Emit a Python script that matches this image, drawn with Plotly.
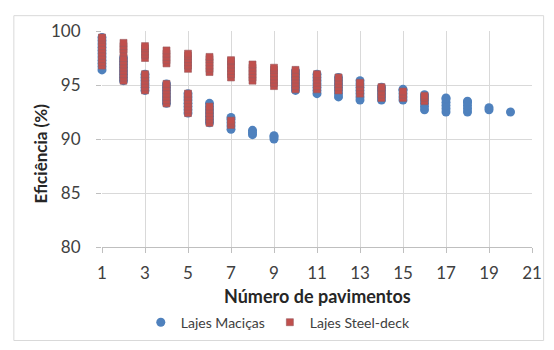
import plotly.graph_objects as go

# Número de pavimentos (one list of efficiency values per floor count)
floors_macicas = [1, 2, 3, 4, 5, 6, 7, 8, 9, 10, 11, 12, 13, 14, 15, 16, 17, 18, 19, 20]
efic_macicas = [
    [96.4, 96.7, 97.0, 97.3, 97.6, 97.9, 98.2, 98.5, 98.8, 99.1, 99.4],
    [95.4, 95.7, 96.0, 96.3, 96.6, 96.9, 97.2, 97.5],
    [94.5, 94.8, 95.1, 95.4, 95.7, 96.0],
    [93.3, 93.6, 93.9, 94.2, 94.5, 94.8, 95.1],
    [92.4, 92.7, 93.0, 93.3, 93.6, 93.9, 94.2],
    [91.5, 91.8, 92.1, 92.4, 92.7, 93.0, 93.3],
    [90.9, 91.2, 91.5, 91.8, 92.0],
    [90.4, 90.6, 90.8],
    [90.0, 90.2, 90.3],
    [94.5, 94.8, 95.1, 95.4, 95.7, 96.0, 96.3],
    [94.2, 94.5, 94.8, 95.1, 95.4, 95.7, 96.0],
    [93.9, 94.2, 94.5, 94.8, 95.1, 95.4, 95.7],
    [93.6, 93.9, 94.2, 94.5, 94.8, 95.1, 95.4],
    [93.6, 93.9, 94.2, 94.5, 94.8],
    [93.6, 93.9, 94.2, 94.5, 94.6],
    [92.7, 93.0, 93.3, 93.6, 93.9, 94.1],
    [92.5, 92.8, 93.1, 93.4, 93.7, 93.8],
    [92.5, 92.8, 93.1, 93.4, 93.5],
    [92.7, 92.9],
    [92.5],
]

floors_steel = [1, 2, 3, 4, 5, 6, 7, 8, 9, 10, 11, 12, 13, 14, 15, 16]
efic_steel = [
    [96.8, 97.1, 97.4, 97.7, 98.0, 98.3, 98.6, 98.9, 99.2, 99.4],
    [95.4, 95.7, 96.0, 96.3, 96.6, 96.9, 97.2, 97.5, 98.0, 98.3, 98.6, 98.9],
    [94.5, 94.8, 95.1, 95.4, 95.7, 96.0, 97.5, 97.8, 98.1, 98.4, 98.6],
    [93.3, 93.6, 93.9, 94.2, 94.5, 94.8, 95.1, 97.0, 97.3, 97.6, 97.9, 98.2],
    [92.4, 92.7, 93.0, 93.3, 93.6, 93.9, 94.2, 96.5, 96.8, 97.1, 97.4, 97.7, 97.9],
    [91.5, 91.8, 92.1, 92.4, 92.7, 93.0, 96.2, 96.5, 96.8, 97.1, 97.4, 97.6],
    [91.3, 91.5, 91.7, 95.7, 96.0, 96.3, 96.6, 96.9, 97.2, 97.3],
    [95.4, 95.7, 96.0, 96.3, 96.6, 96.9],
    [94.9, 95.2, 95.5, 95.8, 96.1, 96.4, 96.6],
    [94.6, 94.9, 95.2, 95.5, 95.8, 96.1, 96.4],
    [94.6, 94.9, 95.2, 95.5, 95.8, 96.0],
    [94.5, 94.8, 95.1, 95.4, 95.7],
    [94.2, 94.5, 94.8, 95.1, 95.2],
    [93.8, 94.1, 94.4, 94.7, 94.8],
    [93.8, 94.1, 94.4],
    [93.5, 93.8, 94.0],
]

x_ticks = [1, 3, 5, 7, 9, 11, 13, 15, 17, 19, 21]
y_ticks = [80, 85, 90, 95, 100]


def flatten(floors, values):
    xs, ys = [], []
    for f, vals in zip(floors, values):
        for v in vals:
            xs.append(f)
            ys.append(v)
    return xs, ys


xm, ym = flatten(floors_macicas, efic_macicas)
xs, ys = flatten(floors_steel, efic_steel)

fig = go.Figure()
fig.add_trace(go.Scatter(x=xm, y=ym, mode='markers', name='Lajes Maciças', cliponaxis=False,
                         marker=dict(symbol='circle', size=9, color='#4F81BD')))
fig.add_trace(go.Scatter(x=xs, y=ys, mode='markers', name='Lajes Steel-deck', cliponaxis=False,
                         marker=dict(symbol='square', size=7, color='#C0504D',
                                     line=dict(width=0.6, color='#9a5a60'))))

font = 'Lato, Carlito, Calibri, sans-serif'
# the page body adds an 8px margin, so the figure is a bit smaller than the window
fig.update_layout(
    width=546, height=342,
    margin=dict(l=94, r=14, t=18, b=100),
    paper_bgcolor='white', plot_bgcolor='white',
    font=dict(family=font, color='#404040'),
    showlegend=True,
    legend=dict(orientation='h', x=0.41, xanchor='center', y=-0.35, yanchor='middle',
                font=dict(size=14, color='#404040'), itemwidth=30),
    xaxis=dict(range=[1, 21], tickvals=x_ticks, showgrid=True, gridcolor='#d9d9d9',
               zeroline=False, showline=True, linecolor='#bfbfbf', ticks='outside',
               ticklen=5, tickcolor='#bfbfbf', tickfont=dict(size=17, color='#404040'),
               ticklabelstandoff=6),
    yaxis=dict(range=[80, 100], tickvals=y_ticks, showgrid=True, gridcolor='#d9d9d9',
               zeroline=False, showline=False, ticks='outside', ticklen=5,
               tickcolor='#bfbfbf', tickfont=dict(size=17, color='#404040'),
               ticklabelstandoff=12),
)

# axis titles placed like the original
fig.add_annotation(text='<b>Eficiência (%)</b>', xref='paper', yref='paper', x=-0.144, y=0.433,
                   xanchor='center', yanchor='middle',
                   textangle=-90, showarrow=False, font=dict(size=17, color='#262626'))
fig.add_annotation(text='<b>Número de pavimentos</b>', xref='paper', yref='paper', x=0.5, y=-0.228,
                   xanchor='center', yanchor='middle',
                   showarrow=False, font=dict(size=18, color='#262626'))

# outer chart border
fig.add_shape(type='rect', xref='paper', yref='paper', x0=-0.205, x1=1.027, y0=-0.433, y1=1.071,
              line=dict(color='#d9d9d9', width=1))

fig.write_html("out.html")
